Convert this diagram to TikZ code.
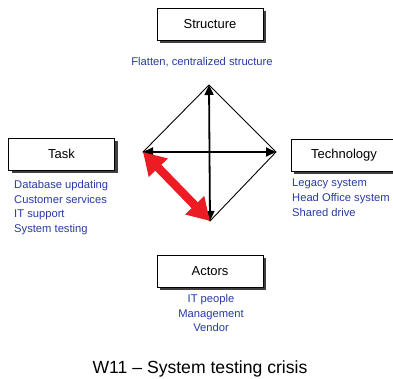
\documentclass[tikz,border=0pt]{standalone}
\usepackage{fontspec}
\setmainfont{Liberation Sans}
\usetikzlibrary{arrows.meta,shadows}
\definecolor{listblue}{RGB}{40,58,165}
\definecolor{arrowred}{RGB}{237,28,36}
\begin{document}
\begin{tikzpicture}[x=1pt,y=-1pt,
  boxnode/.style={draw=black, line width=0.9pt, fill=white, minimum width=106pt,
    minimum height=32pt, inner sep=0pt, font=\fontsize{13}{15}\selectfont,
    drop shadow={shadow xshift=3pt, shadow yshift=-3pt, fill=black!75, opacity=1}},
  listtext/.style={inner sep=0pt, text=listblue, font=\fontsize{11.2}{14.8}\selectfont},
  diamondline/.style={draw=black, line width=0.9pt},
  axisarrow/.style={draw=black, line width=1.8pt, {Triangle[length=10pt,width=9pt]}-{Triangle[length=10pt,width=9pt]}},
  redarrow/.style={draw=arrowred, line width=8.5pt, {Triangle[length=22pt,width=25pt]}-{Triangle[length=22pt,width=25pt]}}
]
\useasboundingbox (0,0) rectangle (393,379);
\clip (0,0) rectangle (393,379);

% boxes
\node[boxnode] (structure) at (210,24) {Structure};
\node[boxnode] (task) at (61.5,154) {Task};
\node[boxnode] (technology) at (344,155) {Technology};
\node[boxnode] (actors) at (210,271) {Actors};

% lists
\node[listtext, anchor=base] (structlist) at (202,66) {Flatten, centralized structure};
\node[listtext, anchor=north west, align=left] (tasklist) at (14,180)
  {Database updating\\Customer services\\IT support\\System testing};
\node[listtext, anchor=north west, align=left] (techlist) at (292,179)
  {Legacy system\\Head Office system\\Shared drive};
\node[listtext, anchor=north, align=center] (actorlist) at (211,294)
  {IT people\\Management\\Vendor};

% diamond
\coordinate (T) at (209,85);
\coordinate (L) at (143,152);
\coordinate (R) at (276,152);
\coordinate (B) at (210,221);
\draw[diamondline] (T) -- (R) -- (B) -- (L) -- cycle;
\draw[axisarrow] (T) -- (B);
\draw[axisarrow] (L) -- (R);
\draw[redarrow] (L) -- (B);

% title
\node[inner sep=0pt, anchor=base, font=\fontsize{17.6}{20}\selectfont] (title) at (200,373)
  {W11 -- System testing crisis};
\end{tikzpicture}
\end{document}
